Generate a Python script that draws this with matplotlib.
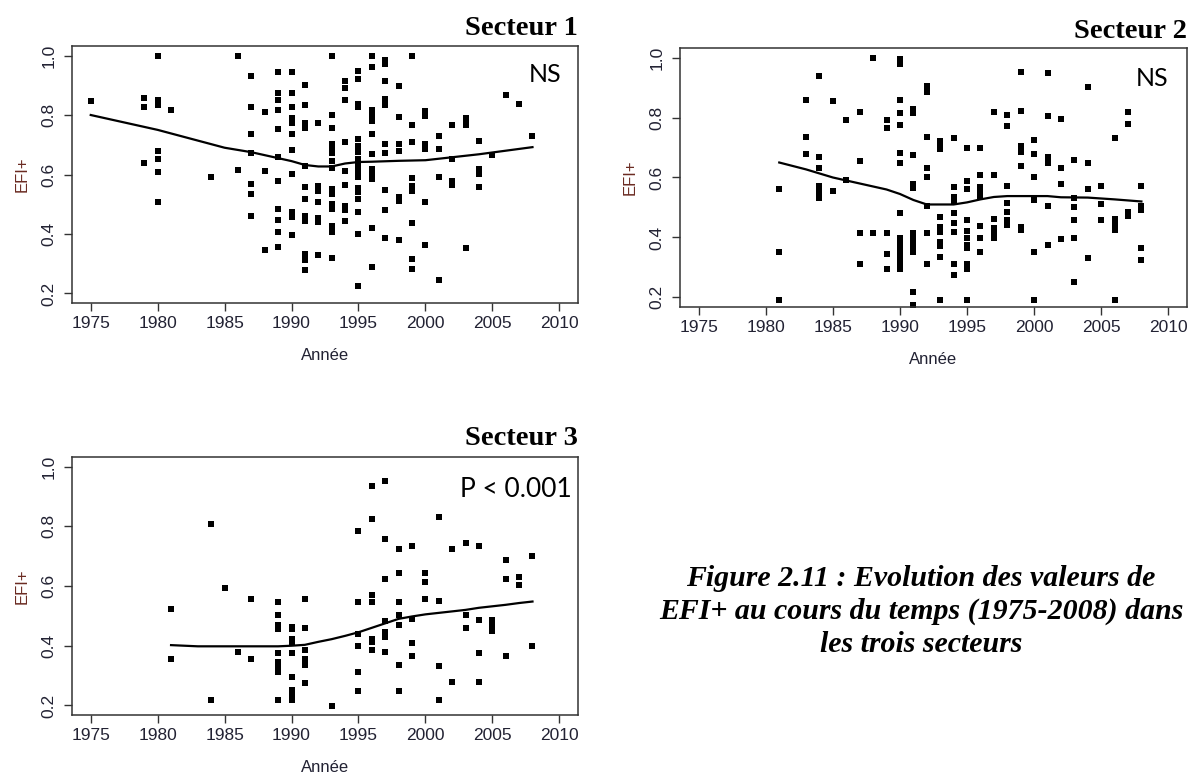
import matplotlib
matplotlib.use("Agg")
import matplotlib.pyplot as plt

plt.rcParams['font.family'] = ['Liberation Sans', 'DejaVu Sans']

# EFI+ values per year
secteur1 = {
    1975: [0.846],
    1979: [0.857, 0.827, 0.637],
    1980: [1.0, 0.85, 0.835, 0.679, 0.651, 0.61, 0.506],
    1981: [0.818],
    1984: [0.59],
    1986: [1.0, 0.614],
    1987: [0.932, 0.826, 0.735, 0.671, 0.568, 0.534, 0.459],
    1988: [0.81, 0.611, 0.345],
    1989: [0.943, 0.874, 0.85, 0.818, 0.754, 0.66, 0.577, 0.484, 0.448, 0.408, 0.356],
    1990: [0.943, 0.874, 0.827, 0.79, 0.772, 0.735, 0.681, 0.603, 0.473, 0.456, 0.397],
    1991: [0.9, 0.835, 0.774, 0.757, 0.629, 0.557, 0.518, 0.462, 0.445, 0.334, 0.311, 0.278],
    1992: [0.774, 0.562, 0.545, 0.509, 0.454, 0.44, 0.33],
    1993: [1.0, 0.8, 0.757, 0.701, 0.685, 0.671, 0.646, 0.623, 0.551, 0.534, 0.501, 0.484, 0.428, 0.406, 0.319],
    1994: [0.913, 0.891, 0.85, 0.709, 0.612, 0.564, 0.495, 0.479, 0.442],
    1995: [0.947, 0.921, 0.838, 0.827, 0.718, 0.696, 0.674, 0.651, 0.629, 0.607, 0.59, 0.553, 0.54, 0.518, 0.473, 0.4, 0.226],
    1996: [1.0, 0.961, 0.818, 0.796, 0.779, 0.735, 0.668, 0.618, 0.601, 0.584, 0.419, 0.289],
    1997: [0.986, 0.972, 0.913, 0.855, 0.832, 0.701, 0.671, 0.549, 0.479, 0.386],
    1998: [0.896, 0.794, 0.701, 0.679, 0.523, 0.512, 0.379],
    1999: [1.0, 0.765, 0.709, 0.587, 0.562, 0.545, 0.437, 0.315, 0.281],
    2000: [0.813, 0.798, 0.701, 0.685, 0.506, 0.362],
    2001: [0.731, 0.685, 0.592, 0.247],
    2002: [0.765, 0.651, 0.578, 0.564],
    2003: [0.79, 0.774, 0.765, 0.353],
    2004: [0.713, 0.618, 0.601, 0.557],
    2005: [0.665],
    2006: [0.866],
    2007: [0.837],
    2008: [0.731],
}

secteur2 = {
    1981: [0.561, 0.353, 0.192],
    1983: [0.858, 0.734, 0.679],
    1984: [0.939, 0.668, 0.632, 0.572, 0.552, 0.533],
    1985: [0.856, 0.554],
    1986: [0.792, 0.593],
    1987: [0.82, 0.654, 0.416, 0.311],
    1988: [0.997, 0.416],
    1989: [0.792, 0.765, 0.416, 0.345, 0.294],
    1990: [0.994, 0.98, 0.859, 0.814, 0.776, 0.682, 0.649, 0.482, 0.397, 0.38, 0.364, 0.347, 0.331, 0.314, 0.294],
    1991: [0.828, 0.814, 0.676, 0.577, 0.566, 0.414, 0.397, 0.38, 0.364, 0.353, 0.218, 0.176],
    1992: [0.906, 0.895, 0.884, 0.734, 0.632, 0.6, 0.504, 0.416, 0.311],
    1993: [0.723, 0.71, 0.696, 0.469, 0.436, 0.419, 0.386, 0.373, 0.336, 0.192],
    1994: [0.731, 0.568, 0.535, 0.519, 0.482, 0.449, 0.417, 0.311, 0.275],
    1995: [0.699, 0.588, 0.563, 0.458, 0.422, 0.397, 0.375, 0.364, 0.312, 0.294, 0.192],
    1996: [0.699, 0.61, 0.568, 0.552, 0.535, 0.438, 0.397, 0.353],
    1997: [0.82, 0.61, 0.46, 0.43, 0.414, 0.397],
    1998: [0.809, 0.771, 0.572, 0.515, 0.485, 0.458, 0.441],
    1999: [0.952, 0.823, 0.705, 0.693, 0.685, 0.64, 0.436, 0.425],
    2000: [0.726, 0.677, 0.6, 0.526, 0.353, 0.192],
    2001: [0.948, 0.804, 0.668, 0.648, 0.504, 0.375],
    2002: [0.795, 0.632, 0.577, 0.395],
    2003: [0.657, 0.533, 0.5, 0.458, 0.397, 0.25],
    2004: [0.903, 0.648, 0.561, 0.333],
    2005: [0.572, 0.511, 0.458],
    2006: [0.731, 0.463, 0.441, 0.425, 0.192],
    2007: [0.82, 0.779, 0.485, 0.472],
    2008: [0.571, 0.504, 0.493, 0.364, 0.325],
}

secteur3 = {
    1981: [0.524, 0.354],
    1984: [0.808, 0.219],
    1985: [0.592],
    1986: [0.379],
    1987: [0.557, 0.354],
    1989: [0.546, 0.504, 0.468, 0.457, 0.374, 0.346, 0.33, 0.313, 0.219],
    1990: [0.463, 0.457, 0.422, 0.413, 0.374, 0.296, 0.252, 0.238, 0.219],
    1991: [0.557, 0.46, 0.385, 0.357, 0.335, 0.274],
    1993: [0.197],
    1995: [0.784, 0.546, 0.44, 0.398, 0.313, 0.249],
    1996: [0.934, 0.826, 0.571, 0.546, 0.424, 0.413, 0.385],
    1997: [0.95, 0.758, 0.625, 0.483, 0.446, 0.429, 0.379],
    1998: [0.723, 0.645, 0.546, 0.504, 0.47, 0.335, 0.249],
    1999: [0.734, 0.49, 0.41, 0.365],
    2000: [0.642, 0.612, 0.555],
    2001: [0.832, 0.551, 0.333, 0.219],
    2002: [0.723, 0.278],
    2003: [0.743, 0.504, 0.46],
    2004: [0.734, 0.485, 0.374, 0.278],
    2005: [0.485, 0.466, 0.449],
    2006: [0.686, 0.625, 0.365],
    2007: [0.629, 0.604],
    2008: [0.699, 0.398],
}

# smoothed curves (lowess)
lo1_x = [1975, 1980, 1985, 1987, 1989, 1990, 1991, 1992, 1993, 1994, 1995, 1996, 1998, 2000, 2002, 2004, 2006, 2008]
lo1_y = [0.80, 0.75, 0.69, 0.675, 0.655, 0.645, 0.632, 0.627, 0.627, 0.637, 0.642, 0.643, 0.646, 0.648, 0.658, 0.668, 0.68, 0.692]
lo2_x = [1981, 1983, 1985, 1987, 1989, 1990, 1991, 1992, 1993, 1994, 1995, 1996, 1997, 1998, 2000, 2001, 2002, 2004, 2006, 2008]
lo2_y = [0.65, 0.627, 0.60, 0.58, 0.56, 0.545, 0.525, 0.51, 0.51, 0.51, 0.517, 0.527, 0.535, 0.538, 0.538, 0.538, 0.534, 0.533, 0.527, 0.52]
lo3_x = [1981, 1983, 1985, 1987, 1989, 1990, 1991, 1992, 1993, 1994, 1995, 1996, 1997, 1998, 1999, 2000, 2001, 2002, 2003, 2004, 2005, 2006, 2007, 2008]
lo3_y = [0.402, 0.398, 0.398, 0.398, 0.398, 0.40, 0.403, 0.413, 0.422, 0.433, 0.445, 0.46, 0.475, 0.49, 0.498, 0.505, 0.51, 0.515, 0.52, 0.527, 0.532, 0.537, 0.543, 0.548]

titles = ["Secteur 1", "Secteur 2", "Secteur 3"]
notes = ["NS", "NS", "P < 0.001"]
xticks = [1975, 1980, 1985, 1990, 1995, 2000, 2005, 2010]
yticks = [0.2, 0.4, 0.6, 0.8, 1.0]
caption = ["Figure 2.11 : Evolution des valeurs de",
           "EFI+ au cours du temps (1975-2008) dans",
           "les trois secteurs"]

W, H = 1191, 778
fig = plt.figure(figsize=(W / 100, H / 100), dpi=100)

def px_axes(l, t, r, b):
    return fig.add_axes([l / W, 1 - b / H, (r - l) / W, (b - t) / H])

ax1 = px_axes(72, 46, 578, 303)
ax2 = px_axes(680, 48, 1187, 307)
ax3 = px_axes(72, 457, 578, 715)

panels = [
    (ax1, secteur1, lo1_x, lo1_y, (0.968, 0.934)),
    (ax2, secteur2, lo2_x, lo2_y, (0.963, 0.927)),
    (ax3, secteur3, lo3_x, lo3_y, (0.988, 0.922)),
]

for i, (ax, data, lx, ly, notepos) in enumerate(panels):
    xs, ys = [], []
    for yr, vals in data.items():
        for v in vals:
            xs.append(yr)
            ys.append(v)
    ax.plot(xs, ys, 's', color='black', markersize=4.2, markeredgewidth=0)
    ax.plot(lx, ly, '-', color='black', lw=1.6)
    ax.set_xlim(1973.6, 2011.4)
    ax.set_ylim(0.168, 1.032)
    ax.set_xticks(xticks)
    ax.set_yticks(yticks)
    ax.set_yticklabels(["%.1f" % v for v in yticks], rotation=90, va='center')
    ax.tick_params(length=6, width=1.0, color='#333333', labelsize=12.5,
                   labelcolor='#222233')
    ax.tick_params(axis='x', pad=3.5)
    ax.tick_params(axis='y', pad=5)
    for sp in ax.spines.values():
        sp.set_color('#333333')
        sp.set_linewidth(1.1)
    ax.set_ylabel("EFI+", fontsize=12, color='#6b2b22', labelpad=9)
    ax.set_xlabel("Ann\u00e9e", fontsize=12, color='#222233', labelpad=12)
    ax.text(notepos[0], notepos[1], notes[i], transform=ax.transAxes,
            ha='right', va='top', fontsize=18 if i < 2 else 19, family='Lato')

fig.text(578 / W, 1 - 35 / H, titles[0], ha='right', va='baseline',
         fontsize=20.5, fontweight='bold', family='Liberation Serif')
fig.text(1187 / W, 1 - 38 / H, titles[1], ha='right', va='baseline',
         fontsize=20.5, fontweight='bold', family='Liberation Serif')
fig.text(578 / W, 1 - 445 / H, titles[2], ha='right', va='baseline',
         fontsize=20.5, fontweight='bold', family='Liberation Serif')

for k, line in enumerate(caption):
    fig.text(921 / W, 1 - (578 + 33 * k) / H, line, ha='center', va='center',
             fontsize=21.5, fontweight='bold', style='italic',
             family='Liberation Serif')

fig.savefig("out.png", dpi=100)
